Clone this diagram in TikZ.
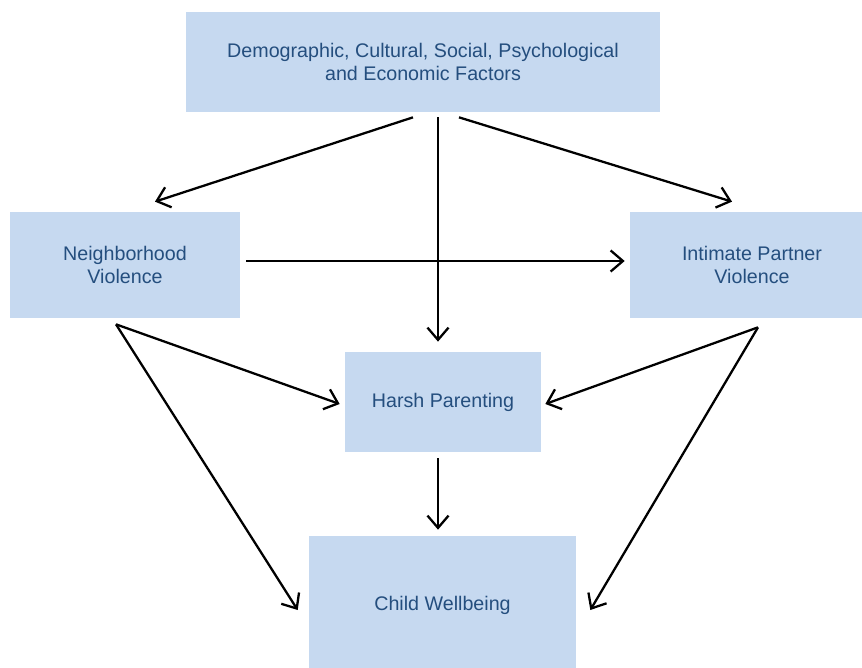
\documentclass[tikz,border=0pt]{standalone}
\usepackage{fontspec}
\setmainfont{Liberation Sans}
\usetikzlibrary{calc, arrows.meta, positioning}
\definecolor{boxblue}{HTML}{C6D9F0}
\definecolor{textblue}{HTML}{244E7E}

\begin{document}
\begin{tikzpicture}[x=0.02cm, y=-0.02cm, font=\fontsize{11.2}{13}\selectfont, >={Straight Barb[length=7pt, width=12pt, line width=1.3pt]},
  factor/.style={fill=boxblue, text=textblue, align=center, inner sep=0pt},
  link/.style={->, line width=1.3pt}]

\useasboundingbox (0,0) rectangle (862,668);

\node[factor, minimum width=9.48cm, minimum height=2cm] (dem) at (423,62) {Demographic, Cultural, Social, Psychological\\and Economic Factors};
\node[factor, minimum width=4.6cm, minimum height=2.12cm] (nbr) at (125,265) {Neighborhood\\Violence};
\node[factor, minimum width=4.88cm, minimum height=2.12cm] (ipv) at (752,265) {Intimate Partner\\Violence};
\node[factor, minimum width=3.92cm, minimum height=2cm] (hp) at (443,402) {Harsh Parenting};
\node[factor, minimum width=5.34cm, minimum height=2.76cm] (cw) at (442.5,605) {Child Wellbeing};

\draw[link] ($(dem.south)+(-10,5)$) -- ($(nbr.north)+(30,-10)$);
\draw[link] ($(dem.south)+(15,5)$) -- ($(hp.north)+(-5,-10)$);
\draw[link] ($(dem.south)+(36,5)$) -- ($(ipv.north)+(-20,-10)$);
\draw[link] ($(nbr.east)+(6,-4)$) -- ($(ipv.west)+(-5,-4)$);
\draw[link] ($(nbr.south)+(-9,6)$) -- ($(hp.west)+(-5,2)$);
\draw[link] ($(nbr.south)+(-9,6)$) -- ($(cw.west)+(-11,5)$);
\draw[link] ($(ipv.south)+(6,9)$) -- ($(hp.east)+(4,2)$);
\draw[link] ($(ipv.south)+(6,9)$) -- ($(cw.east)+(14,5)$);
\draw[link] ($(hp.south)+(-5,6)$) -- ($(cw.north)+(-4.5,-6)$);

\end{tikzpicture}
\end{document}
